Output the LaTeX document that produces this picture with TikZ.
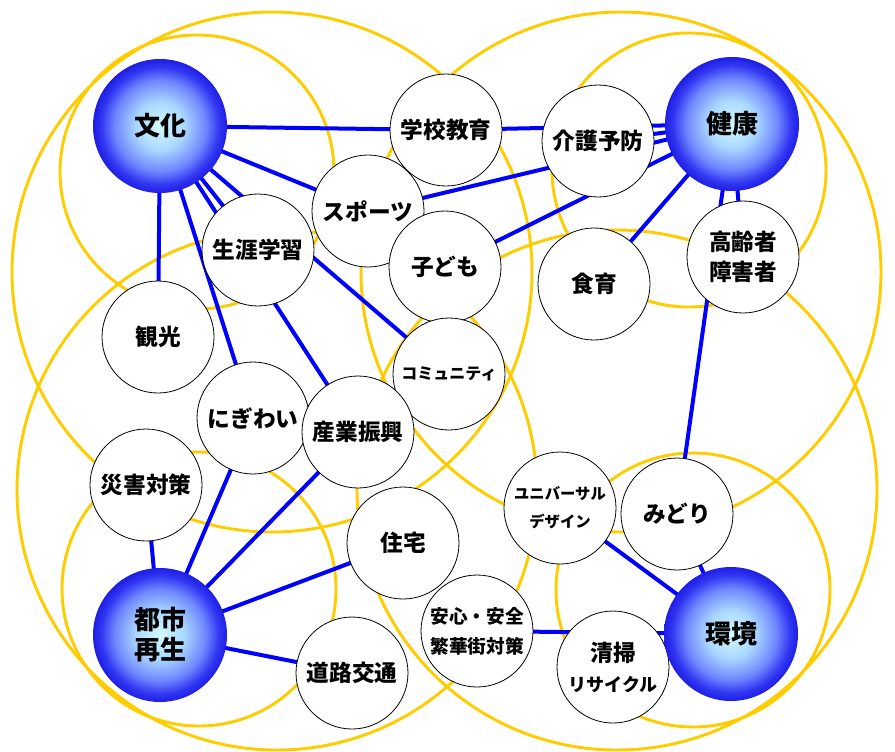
\documentclass[tikz,border=0pt]{standalone}
\usepackage{fontspec}
\setmainfont{Noto Sans CJK JP}
\usetikzlibrary{backgrounds}

\definecolor{ringyellow}{RGB}{255,204,0}
\definecolor{linkblue}{RGB}{0,0,255}
\definecolor{hubcore}{RGB}{212,250,255}
\definecolor{hubpale}{RGB}{170,215,255}
\definecolor{hubmid}{RGB}{110,135,255}
\definecolor{hubdeep}{RGB}{50,55,242}
\definecolor{hubrim}{RGB}{30,30,228}
\pgfdeclareradialshading{hubshade}{\pgfpointorigin}{%
  color(0bp)=(hubcore); color(9bp)=(hubpale); color(17bp)=(hubmid);
  color(22bp)=(hubdeep); color(25bp)=(hubrim); color(50bp)=(hubrim)}

\tikzset{
  topic/.style={circle, draw=black, line width=0.6pt, fill=white,
    minimum size=84pt, inner sep=0pt, align=center,
    font=\bfseries\fontsize{17}{22.5}\selectfont},
  hub/.style={circle, shading=hubshade, minimum size=100.5pt,
    inner sep=0pt, align=center,
    font=\bfseries\fontsize{19.5}{22.5}\selectfont},
  ring/.style={draw=ringyellow, line width=2.2pt},
  link/.style={draw=linkblue, line width=3pt}
}

\begin{document}
\begin{tikzpicture}[x=0.75pt,y=-0.75pt]
  \useasboundingbox (0,0) rectangle (895,751);

  % topics
  \node[topic] (gakko) at (446,130) {学校教育};
  \node[topic] (kaigo) at (598,141) {介護予防};
  \node[topic] (sports) at (368,211) {スポーツ};
  \node[topic] (shogai) at (258,250) {生涯学習};
  \node[topic] (kodomo) at (445,267) {子ども};
  \node[topic] (shokuiku) at (594,284) {食育};
  \node[topic] (korei) at (743,257) {高齢者\\障害者};
  \node[topic] (kanko) at (158,337) {観光};
  \node[topic, font=\bfseries\fontsize{12}{14}\selectfont] (komyu) at (449,374) {コミュニティ};
  \node[topic] (nigiwai) at (253,418) {にぎわい};
  \node[topic] (sangyo) at (358,432) {産業振興};
  \node[topic] (saigai) at (146,485) {災害対策};
  \node[topic] (jutaku) at (403,543) {住宅};
  \node[topic] (doro) at (352,673) {道路交通};
  \node[topic, font=\bfseries\fontsize{14}{22.5}\selectfont] (anshin) at (477,631) {安心・安全\\繁華街対策};
  \node[topic, font=\bfseries\fontsize{11.5}{21}\selectfont] (univ) at (560,508) {ユニバーサル\\デザイン};
  \node[topic] (midori) at (677,514) {みどり};
  \node[topic] (seiso) at (613,667) {清掃\\{\fontsize{13.5}{16}\selectfont リサイクル}};

  % hubs
  \node[hub] (bunka) at (160,126) {文化};
  \node[hub] (kenko) at (732,124) {健康};
  \node[hub] (toshi) at (160,635) {都市\\再生};
  \node[hub] (kankyo) at (731,634) {環境};

  \begin{scope}[on background layer]
    \foreach \cx/\cy/\r in {272/272/260, 621/272/260, 277/490/260, 617/490/260,
        197/172/137, 689/170/137, 199/589/137, 693/590/137}
      \draw[ring] (\cx,\cy) circle[radius=\r];

    \foreach \a/\b in {bunka/gakko, bunka/sports, bunka/shogai, bunka/komyu,
        bunka/sangyo, bunka/nigiwai, bunka/kanko,
        kenko/gakko, kenko/kaigo, kenko/sports, kenko/kodomo,
        kenko/shokuiku, kenko/korei, kenko/midori,
        toshi/saigai, toshi/nigiwai, toshi/sangyo, toshi/jutaku, toshi/doro,
        kankyo/midori, kankyo/univ, kankyo/anshin}
      \draw[link] (\a.center) -- (\b.center);
  \end{scope}
\end{tikzpicture}
\end{document}
